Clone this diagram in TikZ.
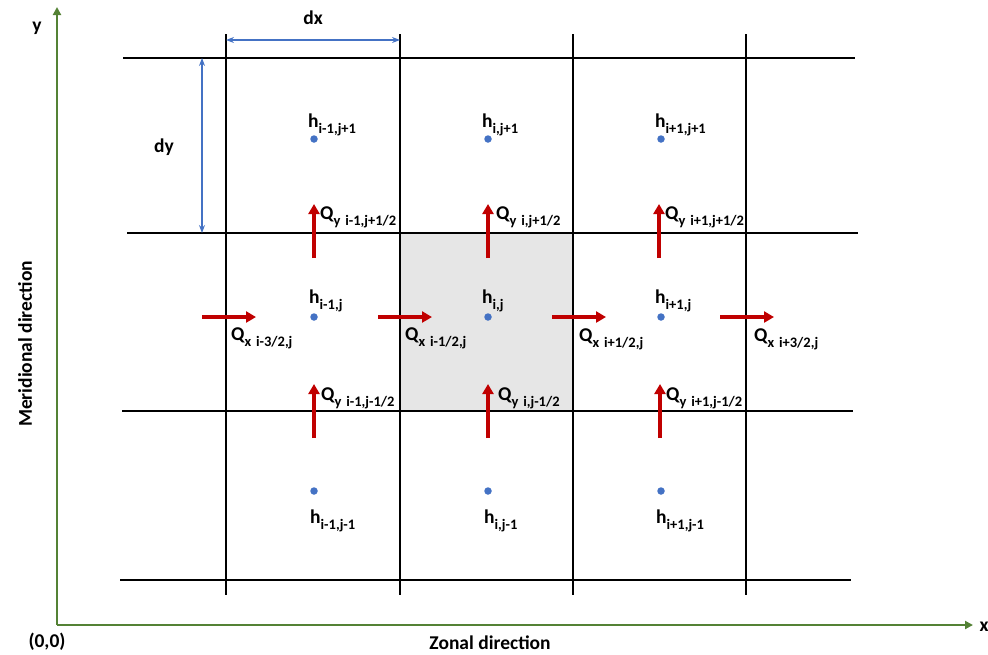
\documentclass[tikz,border=0pt]{standalone}
\usepackage{fontspec}
\setmainfont{Carlito}
\usetikzlibrary{arrows.meta}
\definecolor{axgreen}{HTML}{548235}
\definecolor{qred}{HTML}{C00000}
\definecolor{dotblue}{HTML}{4472C4}
\definecolor{cellgray}{HTML}{E6E6E6}
\newcommand{\lbl}[2]{#1\raisebox{-0.32em}{\fontsize{14.5}{15}\selectfont #2}}
\tikzset{
  gridline/.style={line width=1.7pt, black},
  axisline/.style={line width=2.8pt, axgreen, -{Triangle[length=8pt,width=8pt]}},
  flux/.style={line width=3.4pt, qred, -{Triangle[length=10pt,width=11pt]}},
  dimline/.style={line width=1.2pt, dotblue, {Stealth[length=8pt,width=6pt]}-{Stealth[length=8pt,width=6pt]}},
  hdot/.style={circle, fill=dotblue, inner sep=0pt, minimum size=7.5pt},
  txt/.style={inner sep=0pt, font=\bfseries\fontsize{19.5}{22}\selectfont},
  lab/.style={txt, anchor=base west},
}
\begin{document}
\begin{tikzpicture}[x=1pt,y=-1pt]
\useasboundingbox (0,0) rectangle (988,654);
% shaded cell
\fill[cellgray] (400,233) rectangle (573,411);
% grid
\draw[gridline] (123,58) -- (855,58);
\draw[gridline] (127,233) -- (858,233);
\draw[gridline] (122,411) -- (853,411);
\draw[gridline] (120,580) -- (851,580);
\draw[gridline] (226,34) -- (226,595);
\draw[gridline] (400,34) -- (400,595);
\draw[gridline] (573,34) -- (573,595);
\draw[gridline] (746,34) -- (746,595);
% axes
\coordinate (O) at (57,625);
\coordinate (ytip) at (57,7);
\coordinate (xtip) at (973,625);
\draw[axisline] (O) -- (ytip);
\draw[axisline] (O) -- (xtip);
\node[txt] (ylab) at (37,28) {y};
\node[txt] (xlab) at (984,627) {x};
\node[txt] (orig) at (47,642) {(0,0)};
\node[txt] (zonal) at (490,643) {Zonal direction};
\node[txt, rotate=90] (merid) at (25,344) {Meridional direction};
% dimensions
\coordinate (dxa) at (226,40);
\coordinate (dxb) at (400,40);
\draw[dimline] (dxa) -- (dxb);
\node[txt] (dxlab) at (313,18) {dx};
\coordinate (dya) at (202,58);
\coordinate (dyb) at (202,233);
\draw[dimline] (dya) -- (dyb);
\node[txt] (dylab) at (164,147) {dy};
% dots
\node[hdot] (hA1) at (314,139) {};
\node[hdot] (hB1) at (488,139) {};
\node[hdot] (hC1) at (661,139) {};
\node[hdot] (hA2) at (314,317) {};
\node[hdot] (hB2) at (488,317) {};
\node[hdot] (hC2) at (661,317) {};
\node[hdot] (hA3) at (314,491) {};
\node[hdot] (hB3) at (488,491) {};
\node[hdot] (hC3) at (661,491) {};
% h labels
\node[lab] (tA1) at (308,127) {\lbl{h}{i-1,j+1}};
\node[lab] (tB1) at (482,127) {\lbl{h}{i,j+1}};
\node[lab] (tC1) at (655,127) {\lbl{h}{i+1,j+1}};
\node[lab] (tA2) at (309,303) {\lbl{h}{i-1,j}};
\node[lab] (tB2) at (482,303) {\lbl{h}{i,j}};
\node[lab] (tC2) at (655,303) {\lbl{h}{i+1,j}};
\node[lab] (tA3) at (310,523) {\lbl{h}{i-1,j-1}};
\node[lab] (tB3) at (484,523) {\lbl{h}{i,j-1}};
\node[lab] (tC3) at (656,523) {\lbl{h}{i+1,j-1}};
% x fluxes
\coordinate (qx1s) at (202,317); \coordinate (qx1e) at (256,317);
\coordinate (qx2s) at (378,317); \coordinate (qx2e) at (432,317);
\coordinate (qx3s) at (552,317); \coordinate (qx3e) at (606,317);
\coordinate (qx4s) at (720,317); \coordinate (qx4e) at (774,317);
\draw[flux] (qx1s) -- (qx1e);
\draw[flux] (qx2s) -- (qx2e);
\draw[flux] (qx3s) -- (qx3e);
\draw[flux] (qx4s) -- (qx4e);
\node[lab] (lqx1) at (231,340) {\lbl{Q}{x\,\,i-3/2,j}};
\node[lab] (lqx2) at (405,340) {\lbl{Q}{x\,\,i-1/2,j}};
\node[lab] (lqx3) at (579,341) {\lbl{Q}{x\,\,i+1/2,j}};
\node[lab] (lqx4) at (754,341) {\lbl{Q}{x\,\,i+3/2,j}};
% y fluxes
\coordinate (qyA1s) at (314,258); \coordinate (qyA1e) at (314,204);
\coordinate (qyB1s) at (488,258); \coordinate (qyB1e) at (488,204);
\coordinate (qyC1s) at (659,258); \coordinate (qyC1e) at (659,204);
\coordinate (qyA2s) at (314,438); \coordinate (qyA2e) at (314,384);
\coordinate (qyB2s) at (488,438); \coordinate (qyB2e) at (488,384);
\coordinate (qyC2s) at (660,438); \coordinate (qyC2e) at (660,384);
\draw[flux] (qyA1s) -- (qyA1e);
\draw[flux] (qyB1s) -- (qyB1e);
\draw[flux] (qyC1s) -- (qyC1e);
\draw[flux] (qyA2s) -- (qyA2e);
\draw[flux] (qyB2s) -- (qyB2e);
\draw[flux] (qyC2s) -- (qyC2e);
\node[lab] (lqyA1) at (320,219) {\lbl{Q}{y\,\,i-1,j+1/2}};
\node[lab] (lqyB1) at (496,219) {\lbl{Q}{y\,\,i,j+1/2}};
\node[lab] (lqyC1) at (665,219) {\lbl{Q}{y\,\,i+1,j+1/2}};
\node[lab] (lqyA2) at (321,400) {\lbl{Q}{y\,\,i-1,j-1/2}};
\node[lab] (lqyB2) at (498,400) {\lbl{Q}{y\,\,i,j-1/2}};
\node[lab] (lqyC2) at (666,400) {\lbl{Q}{y\,\,i+1,j-1/2}};
\end{tikzpicture}
\end{document}
